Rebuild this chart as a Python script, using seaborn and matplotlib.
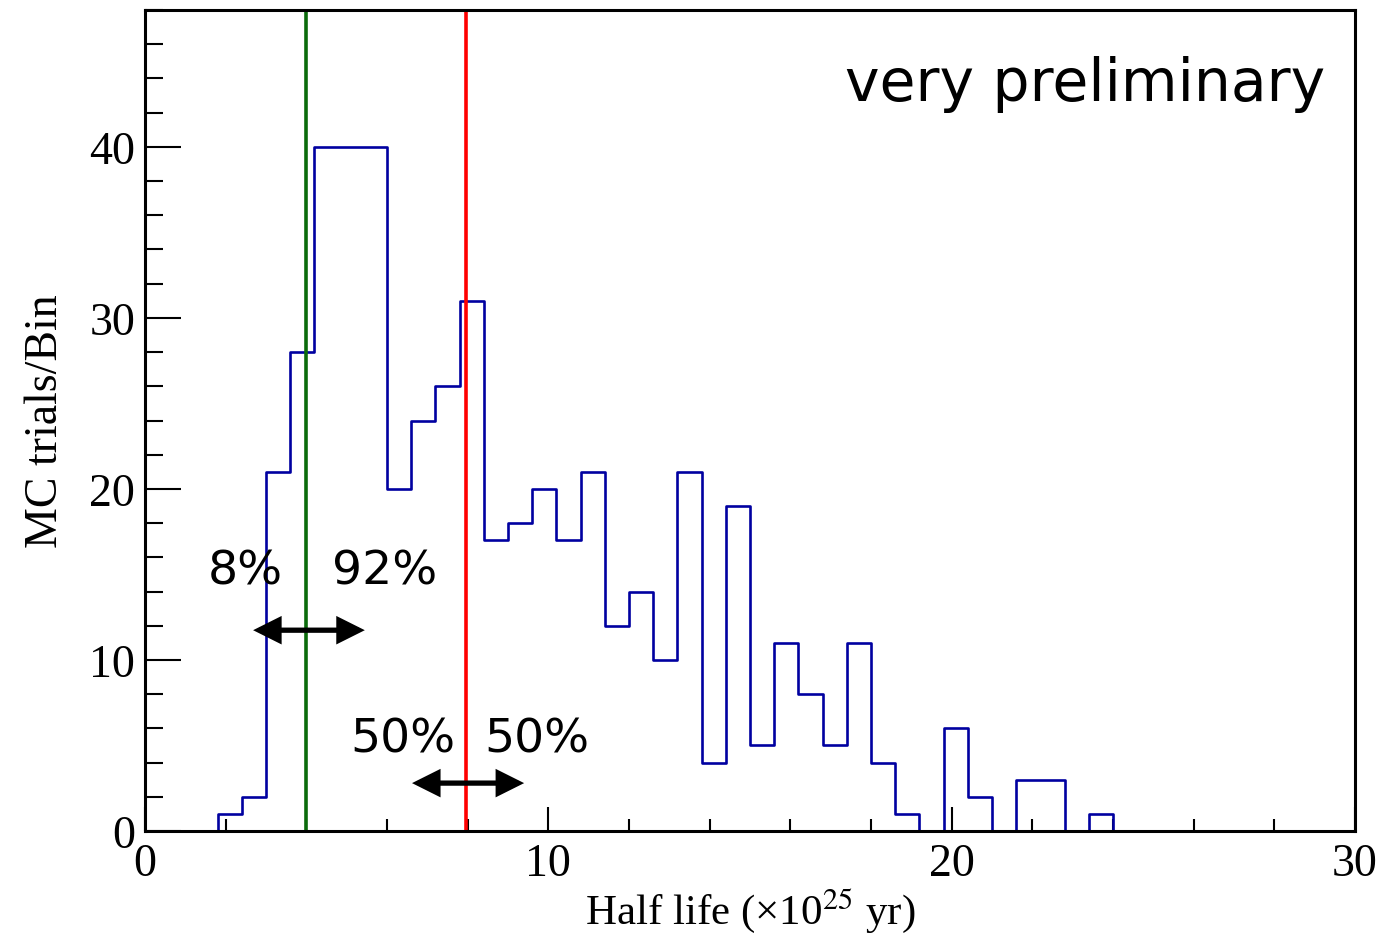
import numpy as np
import pandas as pd
import matplotlib
matplotlib.use("Agg")
import matplotlib.pyplot as plt
import seaborn as sns
from matplotlib.ticker import MultipleLocator

# Histogram: lower bin edge (x10^25 yr) and MC trials per bin
bin_low = [1.8, 2.4, 3.0, 3.6, 4.2, 4.8, 5.4, 6.0, 6.6, 7.2, 7.8, 8.4, 9.0,
           9.6, 10.2, 10.8, 11.4, 12.0, 12.6, 13.2, 13.8, 14.4, 15.0, 15.6,
           16.2, 16.8, 17.4, 18.0, 18.6, 19.2, 19.8, 20.4, 21.0, 21.6, 22.2,
           22.8, 23.4]
counts = [1, 2, 21, 28, 40, 40, 40, 20, 24, 26, 31, 17, 18,
          20, 17, 21, 12, 14, 10, 21, 4, 19, 5, 11,
          8, 5, 11, 4, 1, 0, 6, 2, 0, 3, 3,
          0, 1]
bin_width = 0.6

# limits marked on the plot
lower_limit = 3.99   # 8% / 92%
median = 7.96        # 50% / 50%

df = pd.DataFrame({"half_life": np.array(bin_low) + bin_width / 2,
                   "n": counts})

sns.set_style("ticks")
plt.rcParams["font.family"] = ["Liberation Serif", "DejaVu Serif"]
plt.rcParams["mathtext.fontset"] = "stix"
plt.rcParams["text.color"] = "black"
plt.rcParams["axes.labelcolor"] = "black"

fig = plt.figure(figsize=(13.84, 9.37), dpi=100)
ax = fig.add_axes([145 / 1384, 105 / 937, 1210 / 1384, 821 / 937])

sns.histplot(data=df, x="half_life", weights="n", bins=50, binrange=(0, 30),
             element="step", fill=False, color="#0000a0", linewidth=1.9, ax=ax)

ax.axvline(lower_limit, color="#0b6b0b", linewidth=2.6)
ax.axvline(median, color="#ff0000", linewidth=2.6)

ax.set_xlim(0, 30)
ax.set_ylim(0, 48)

# ROOT-like inward ticks
ax.xaxis.set_major_locator(MultipleLocator(10))
ax.xaxis.set_minor_locator(MultipleLocator(2))
ax.yaxis.set_major_locator(MultipleLocator(10))
ax.yaxis.set_minor_locator(MultipleLocator(2))
ax.tick_params(axis="both", which="both", direction="in", width=1.5,
               labelsize=33, colors="black")
ax.tick_params(axis="x", which="major", length=17, pad=8)
ax.tick_params(axis="x", which="minor", length=8.6)
ax.tick_params(axis="y", which="major", length=26, pad=7)
ax.tick_params(axis="y", which="minor", length=13)
for s in ax.spines.values():
    s.set_linewidth(2.2)
    s.set_color("black")
    s.set_visible(True)

ax.set_xlabel("Half life (\u00d710$^{25}$ yr)", fontsize=31, labelpad=0)
ax.set_ylabel("MC trials/Bin", fontsize=33, labelpad=16)

sans = ["DejaVu Sans"]
ax.text(0.975, 0.911, "very preliminary", transform=ax.transAxes,
        ha="right", va="center", fontsize=42, family=sans)

ax.text(2.48, 15.2, "8%", ha="center", va="center", fontsize=34, family=sans)
ax.text(5.93, 15.2, "92%", ha="center", va="center", fontsize=34, family=sans)
ax.text(6.4, 5.4, "50%", ha="center", va="center", fontsize=34, family=sans)
ax.text(9.72, 5.4, "50%", ha="center", va="center", fontsize=34, family=sans)

arrow = dict(arrowstyle="<|-|>,head_length=0.48,head_width=0.24", color="black",
             lw=3.8, mutation_scale=30, shrinkA=0, shrinkB=0,
             joinstyle="miter", capstyle="butt")
ax.annotate("", xy=(2.68, 11.74), xytext=(5.45, 11.74), arrowprops=arrow)
ax.annotate("", xy=(6.62, 2.8), xytext=(9.40, 2.8), arrowprops=arrow)

fig.savefig("out.png", dpi=100)
